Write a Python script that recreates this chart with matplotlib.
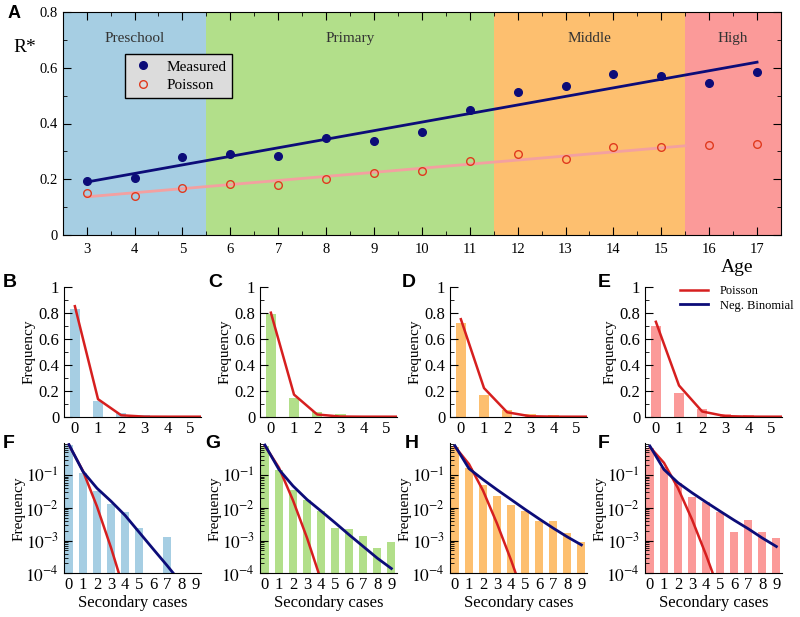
import numpy as np
import matplotlib
matplotlib.use("Agg")
import matplotlib.pyplot as plt
from matplotlib.ticker import MultipleLocator, LogLocator, NullFormatter, FixedLocator

plt.rcParams['font.family'] = ['Liberation Serif', 'DejaVu Serif']
plt.rcParams['mathtext.fontset'] = 'stix'

# ---- panel A data ----
ages = [3, 4, 5, 6, 7, 8, 9, 10, 11, 12, 13, 14, 15, 16, 17]
r_measured = [0.194, 0.206, 0.281, 0.289, 0.285, 0.347, 0.338, 0.368, 0.447, 0.512, 0.533, 0.578, 0.570, 0.545, 0.585]
r_poisson = [0.150, 0.140, 0.170, 0.183, 0.178, 0.201, 0.222, 0.231, 0.265, 0.289, 0.271, 0.315, 0.315, 0.322, 0.328]
fit_measured_x = [3, 17]
fit_measured_y = [0.19, 0.62]
fit_poisson_x = [3, 15.5]
fit_poisson_y = [0.137, 0.32]

schools = ['Preschool', 'Primary', 'Middle', 'High']
school_spans = [(2.5, 5.5), (5.5, 11.5), (11.5, 15.5), (15.5, 17.5)]
school_colors = ['#a6cee3', '#b2df8a', '#fdbf6f', '#fb9a99']
school_label_x = [4.0, 8.5, 13.5, 16.5]

# ---- secondary case distributions ----
cases = list(range(10))
freq = {
    'Preschool': [0.83, 0.12, 0.032, 0.0136, 0.0074, 0.0025, 0, 0.00126, 0, 0],
    'Primary': [0.79, 0.145, 0.036, 0.017, 0.008, 0.0025, 0.0023, 0.0014, 0.0006, 0.0009],
    'Middle': [0.72, 0.17, 0.05, 0.024, 0.0126, 0.008, 0.004, 0.004, 0.0017, 0.0009],
    'High': [0.70, 0.18, 0.06, 0.021, 0.015, 0.0074, 0.0018, 0.0044, 0.0018, 0.0012],
}
poisson_fit = {
    'Preschool': [0.85, 0.135, 0.011, 6e-4, 2.4e-5, 8e-7, 2e-8, 5e-10, 1e-11, 2e-13],
    'Primary': [0.80, 0.17, 0.017, 1.2e-3, 6e-5, 2.5e-6, 8e-8, 2.5e-9, 6e-11, 1.5e-12],
    'Middle': [0.75, 0.22, 0.034, 3.3e-3, 2.5e-4, 1.5e-5, 7.5e-7, 3e-8, 1.2e-9, 4e-11],
    'High': [0.73, 0.24, 0.04, 4.4e-3, 3.6e-4, 2.4e-5, 1.3e-6, 6e-8, 2.5e-9, 1e-10],
}
negbin_fit = {
    'Preschool': [0.87, 0.13, 0.04, 0.016, 0.0059, 0.0018, 5.5e-4, 1.7e-4, 5e-5, 1.5e-5],
    'Primary': [0.84, 0.15, 0.047, 0.018, 0.008, 0.0035, 0.0015, 6.6e-4, 2.9e-4, 1.4e-4],
    'Middle': [0.80, 0.16, 0.074, 0.036, 0.018, 0.009, 0.0046, 0.0024, 0.0013, 7.4e-4],
    'High': [0.78, 0.15, 0.059, 0.029, 0.015, 0.0079, 0.0042, 0.0023, 0.0012, 6.6e-4],
}
top_letters = ['B', 'C', 'D', 'E']
bottom_letters = ['F', 'G', 'H', 'F']

W, H = 800, 617
fig = plt.figure(figsize=(W / 100, H / 100), dpi=100)


def rect(x0, y0, x1, y1):
    # pixel box (top-left origin) -> figure fraction
    return [x0 / W, 1 - y1 / H, (x1 - x0) / W, (y1 - y0) / H]


def ftext(x, y, s, **kw):
    fig.text(x / W, 1 - y / H, s, **kw)


navy = '#0c0c78'
red = '#d61f1f'

# ---- panel A ----
ax = fig.add_axes(rect(62.7, 12, 781, 235))
for span, col in zip(school_spans, school_colors):
    ax.axvspan(span[0], span[1], color=col, lw=0, zorder=0)
for name, xc in zip(schools, school_label_x):
    ax.text(xc, 0.705, name, ha='center', va='center', fontsize=11, color='#333333')
ax.plot(fit_measured_x, fit_measured_y, color=navy, lw=2, zorder=2)
ax.plot(fit_poisson_x, fit_poisson_y, color='#f3a0a0', lw=2, zorder=2)
ax.plot(ages, r_measured, 'o', color=navy, ms=5.5, label='Measured', zorder=3)
ax.plot(ages, r_poisson, 'o', mfc='none', mec='#e03a1e', mew=1, ms=5.5, label='Poisson', zorder=3)
ax.set_xlim(2.5, 17.5)
ax.set_ylim(0, 0.8)
ax.xaxis.set_major_locator(MultipleLocator(1))
ax.xaxis.set_minor_locator(MultipleLocator(0.5))
ax.yaxis.set_minor_locator(MultipleLocator(0.1))
ax.set_yticks([0, 0.2, 0.4, 0.6, 0.8])
ax.set_yticklabels(['0', '0.2', '0.4', '0.6', '0.8'])
ax.tick_params(which='both', direction='in', top=True, right=True, labelsize=10.5)
ax.tick_params(which='major', length=6)
ax.tick_params(which='minor', length=3)
ax.tick_params(axis='x', pad=6)
leg = ax.legend(loc='upper left', bbox_to_anchor=(125 / W, 1 - 54 / H), bbox_transform=fig.transFigure,
                fontsize=11, fancybox=False, edgecolor='black', facecolor='#dcdcdc', framealpha=1,
                borderaxespad=0, handletextpad=0.8, borderpad=0.4, labelspacing=0.3, handlelength=1.5)
ftext(25, 48, 'R*', fontsize=14, ha='center', va='center')
ftext(737, 267, 'Age', fontsize=14, ha='center', va='center')
ftext(8, 14, 'A', fontsize=13, fontweight='bold', family='Liberation Sans', va='center')

# ---- panels B-E and F-I ----
lefts = [64, 260, 450, 645]
width = 137
letter_x_top = [3, 208, 402, 598]
letter_x_bot = [3, 205, 405, 598]
red_line = None
navy_line = None
for i, school in enumerate(schools):
    col = school_colors[i]
    x0 = lefts[i]
    # linear distribution
    a = fig.add_axes(rect(x0, 286.7, x0 + width, 416.7))
    a.bar(cases, freq[school], width=0.45, color=col, zorder=1)
    red_line, = a.plot(cases, poisson_fit[school], color=red, lw=1.8, zorder=2, label='Poisson')
    a.set_xlim(-0.47, 5.45)
    a.set_ylim(0, 1)
    a.set_xticks(range(6))
    a.yaxis.set_minor_locator(MultipleLocator(0.1))
    a.set_yticks([0, 0.2, 0.4, 0.6, 0.8, 1])
    a.set_yticklabels(['0', '0.2', '0.4', '0.6', '0.8', '1'])
    a.tick_params(axis='y', which='both', direction='in', labelsize=12)
    a.tick_params(axis='y', which='major', length=6)
    a.tick_params(axis='y', which='minor', length=3)
    a.tick_params(axis='x', length=0, labelsize=12, pad=3)
    for s in ['top', 'right']:
        a.spines[s].set_visible(False)
    a.set_ylabel('Frequency', fontsize=11, labelpad=2)
    ftext(letter_x_top[i], 282, top_letters[i], fontsize=14, fontweight='bold',
          family='Liberation Sans', va='center')

    # log distribution
    b = fig.add_axes(rect(x0, 443.3, x0 + width, 573.3))
    f = np.array(freq[school])
    pos = f > 0
    b.bar(np.array(cases)[pos], f[pos], width=0.57, color=col, zorder=1)
    b.plot(cases, poisson_fit[school], color=red, lw=1.8, zorder=2)
    navy_line, = b.plot(cases, negbin_fit[school], color=navy, lw=2, zorder=3, label='Neg. Binomial')
    b.set_yscale('log')
    b.set_ylim(1e-4, 0.95)
    b.set_xlim(-0.35, 9.4)
    b.set_xticks(range(10))
    b.yaxis.set_major_locator(FixedLocator([1e-4, 1e-3, 1e-2, 1e-1]))
    b.yaxis.set_minor_locator(LogLocator(base=10, subs=np.arange(2, 10)))
    b.yaxis.set_minor_formatter(NullFormatter())
    b.set_yticklabels([r'$10^{-4}$', r'$10^{-3}$', r'$10^{-2}$', r'$10^{-1}$'])
    b.tick_params(axis='y', which='both', direction='in', labelsize=12.5)
    b.tick_params(axis='y', which='major', length=6)
    b.tick_params(axis='y', which='minor', length=3)
    b.tick_params(axis='x', length=0, labelsize=12, pad=3)
    for s in ['top', 'right']:
        b.spines[s].set_visible(False)
    b.set_ylabel('Frequency', fontsize=11, labelpad=0)
    b.set_xlabel('Secondary cases', fontsize=12, labelpad=1)
    ftext(letter_x_bot[i], 443, bottom_letters[i], fontsize=14, fontweight='bold',
          family='Liberation Sans', va='center')

fig.legend(handles=[red_line, navy_line], loc='upper left', bbox_to_anchor=(680 / W, 1 - 285 / H),
           frameon=False, fontsize=9, handlelength=2.2, handletextpad=1.0, labelspacing=0.2,
           borderaxespad=0, borderpad=0)

fig.savefig('out.png', dpi=100)
